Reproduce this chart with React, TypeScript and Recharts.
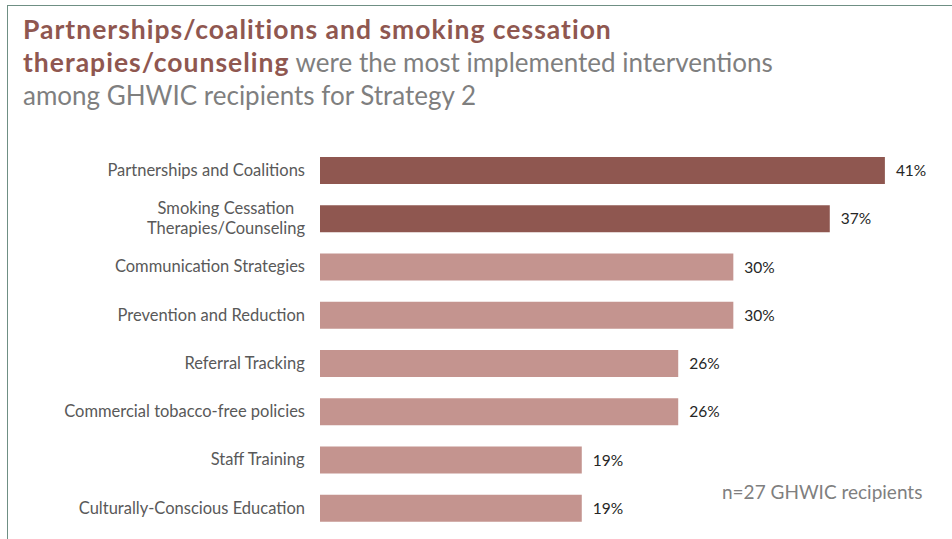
import React from 'react';
import { BarChart, Bar, XAxis, YAxis, Cell, LabelList } from 'recharts';

const CATEGORIES = [
  'Partnerships and Coalitions',
  'Smoking Cessation\nTherapies/Counseling',
  'Communication Strategies',
  'Prevention and Reduction',
  'Referral Tracking',
  'Commercial tobacco-free policies',
  'Staff Training',
  'Culturally-Conscious Education',
];
const SHARES = [41, 37, 30, 30, 26, 26, 19, 19];
const HIGHLIGHTED = ['Partnerships and Coalitions', 'Smoking Cessation\nTherapies/Counseling'];

const DARK = '#8F5750';
const LIGHT = '#C4948F';
const FONT = 'Lato, "Open Sans", sans-serif';

const data = CATEGORIES.map((name, i) => ({ name, value: SHARES[i] }));

let ctx: CanvasRenderingContext2D | null = null;
const measure = (s: string, size: number) => {
  if (!ctx) ctx = document.createElement('canvas').getContext('2d');
  if (!ctx) return s.length * size * 0.5;
  ctx.font = `${size}px ${FONT}`;
  return ctx.measureText(s).width;
};

// multi-line labels are centred within their block, block is right-aligned
const CategoryTick = ({ x, y, payload }: any) => {
  const lines = String(payload.value).split('\n');
  const size = 16.5;
  const widths = lines.map((l) => measure(l, size));
  const maxW = Math.max(...widths);
  const cx = x + 6 - maxW / 2;
  const lh = 20;
  const startY = y - ((lines.length - 1) * lh) / 2;
  return (
    <g>
      {lines.map((l, i) => (
        <text key={i} x={cx} y={startY + i * lh} dy="0.35em" textAnchor="middle" fill="#595959" fontSize={size} fontFamily={FONT}>
          {l}
        </text>
      ))}
    </g>
  );
};

export default function App() {
  const bold = { color: DARK, fontWeight: 700, letterSpacing: 1, fontSize: 26.5 };
  return (
    <div style={{ position: 'fixed', left: 0, top: 0, width: 952, height: 539, background: '#fff', fontFamily: FONT, overflow: 'hidden' }}>
      {/* frame */}
      <div style={{ position: 'absolute', left: 7, top: 5, width: 960, height: 560, borderLeft: '1.5px solid #6f8f84', borderTop: '1.5px solid #6f8f84' }} />
      <div style={{ position: 'absolute', left: 23, top: 13, fontSize: 26, lineHeight: '33px', color: '#7f7f7f', whiteSpace: 'nowrap' }}>
        <div style={bold}>Partnerships/coalitions and smoking cessation</div>
        <div>
          <span style={bold}>therapies/counseling</span> were the most implemented interventions
        </div>
        <div>among GHWIC recipients for Strategy 2</div>
      </div>
      <div style={{ position: 'absolute', left: 0, top: 0 }}>
        <BarChart width={952} height={539} data={data} layout="vertical" margin={{ top: 146, right: 12, bottom: 7, left: 0 }} barSize={27}>
          <XAxis type="number" domain={[0, 45]} hide />
          <YAxis type="category" dataKey="name" width={320} axisLine={false} tickLine={false} tickMargin={15} tick={<CategoryTick />} interval={0} />
          <Bar dataKey="value" isAnimationActive={false}>
            {data.map((d) => (
              <Cell key={d.name} fill={HIGHLIGHTED.includes(d.name) ? DARK : LIGHT} />
            ))}
            <LabelList dataKey="value" position="right" offset={11} formatter={(v: any) => `${v}%`} fill="#262626" fontSize={15.5} fontFamily={FONT} />
          </Bar>
        </BarChart>
      </div>
      <div style={{ position: 'absolute', left: 722, top: 480, fontSize: 19, color: '#7f7f7f', whiteSpace: 'nowrap' }}>n=27 GHWIC recipients</div>
    </div>
  );
}
